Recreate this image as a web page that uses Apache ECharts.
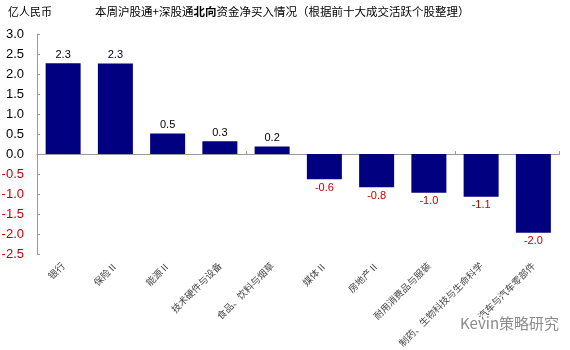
<!DOCTYPE html>
<html><head><meta charset="utf-8">
<script src="https://cdn.jsdelivr.net/npm/echarts@6/dist/echarts.min.js"></script>
<style>html,body{margin:0;padding:0;background:#fff}#c{width:570px;height:350px}</style>
</head><body><div id="c"></div>
<script>
const categories = ['银行','保险Ⅱ','能源Ⅱ','技术硬件与设备','食品、饮料与烟草','媒体Ⅱ','房地产Ⅱ','耐用消费品与服装','制药、生物科技与生命科学','汽车与汽车零部件'];
const values = [2.27, 2.26, 0.51, 0.32, 0.19, -0.63, -0.83, -0.97, -1.07, -1.97];
const yTicks = {min: -2.5, max: 3.0, interval: 0.5};

const chart = echarts.init(document.getElementById('c'));
chart.setOption({
  animation: false,
  textStyle: {fontFamily: 'Noto Sans CJK SC'},
  graphic: [
    {type:'text', left: 8, top: 6, style:{text:'亿人民币', font:'11px "Noto Sans CJK SC"', fill:'#000'}},
    {type:'text', left: 95, top: 6, style:{rich:{a:{font:'11.5px "Noto Sans CJK SC"', fill:'#000'}, b:{font:'bold 11.5px "Noto Sans CJK SC"', fill:'#000'}}, text:'{a|本周沪股通+深股通}{b|北向}{a|资金净买入情况（根据前十大成交活跃个股整理）}'}},
    {type:'text', left: 460, top: 316, style:{text:'Kevin策略研究', font:'15px "Noto Sans CJK SC"', fill:'#8a8a8a'}}
  ],
  grid: {left: 37, right: 10.5, top: 34, bottom: 96, outerBoundsMode: 'none', containLabel: false},
  xAxis: [{
    type: 'category', data: categories,
    axisLine: {show: true, onZero: true, lineStyle: {color: '#999'}},
    axisTick: {show: true, inside: true, length: 3, lineStyle: {color: '#999'}},
    axisLabel: {show: false}
  }, {
    type: 'category', data: categories, position: 'bottom',
    axisLine: {show: false, onZero: false}, axisTick: {show: false},
    axisLabel: {interval: 0, rotate: 45, fontSize: 9.5, color: '#444', margin: 10}
  }],
  yAxis: {
    type: 'value', min: yTicks.min, max: yTicks.max, interval: yTicks.interval,
    splitLine: {show: false},
    axisLine: {show: true, lineStyle: {color: '#999'}},
    axisTick: {show: true, inside: true, length: 3, lineStyle: {color: '#999'}},
    axisLabel: {
      fontFamily: 'Liberation Sans', fontSize: 13, margin: 13,
      showMinLabel: true, showMaxLabel: true,
      formatter: v => v.toFixed(1),
      color: v => (v < 0 ? '#c00000' : '#000')
    }
  },
  series: [{
    type: 'bar', barWidth: 35, xAxisIndex: 0,
    itemStyle: {color: '#000080'},
    data: values.map(v => v < 0 ? {value: v, label:{position:'bottom', color:'#c00000'}} : v),
    label: {
      show: true, fontFamily: 'Liberation Sans', fontSize: 11,
      formatter: p => p.value.toFixed(1),
      position: 'top', distance: 3,
      color: '#000'
    }
  }]
});
</script></body></html>
